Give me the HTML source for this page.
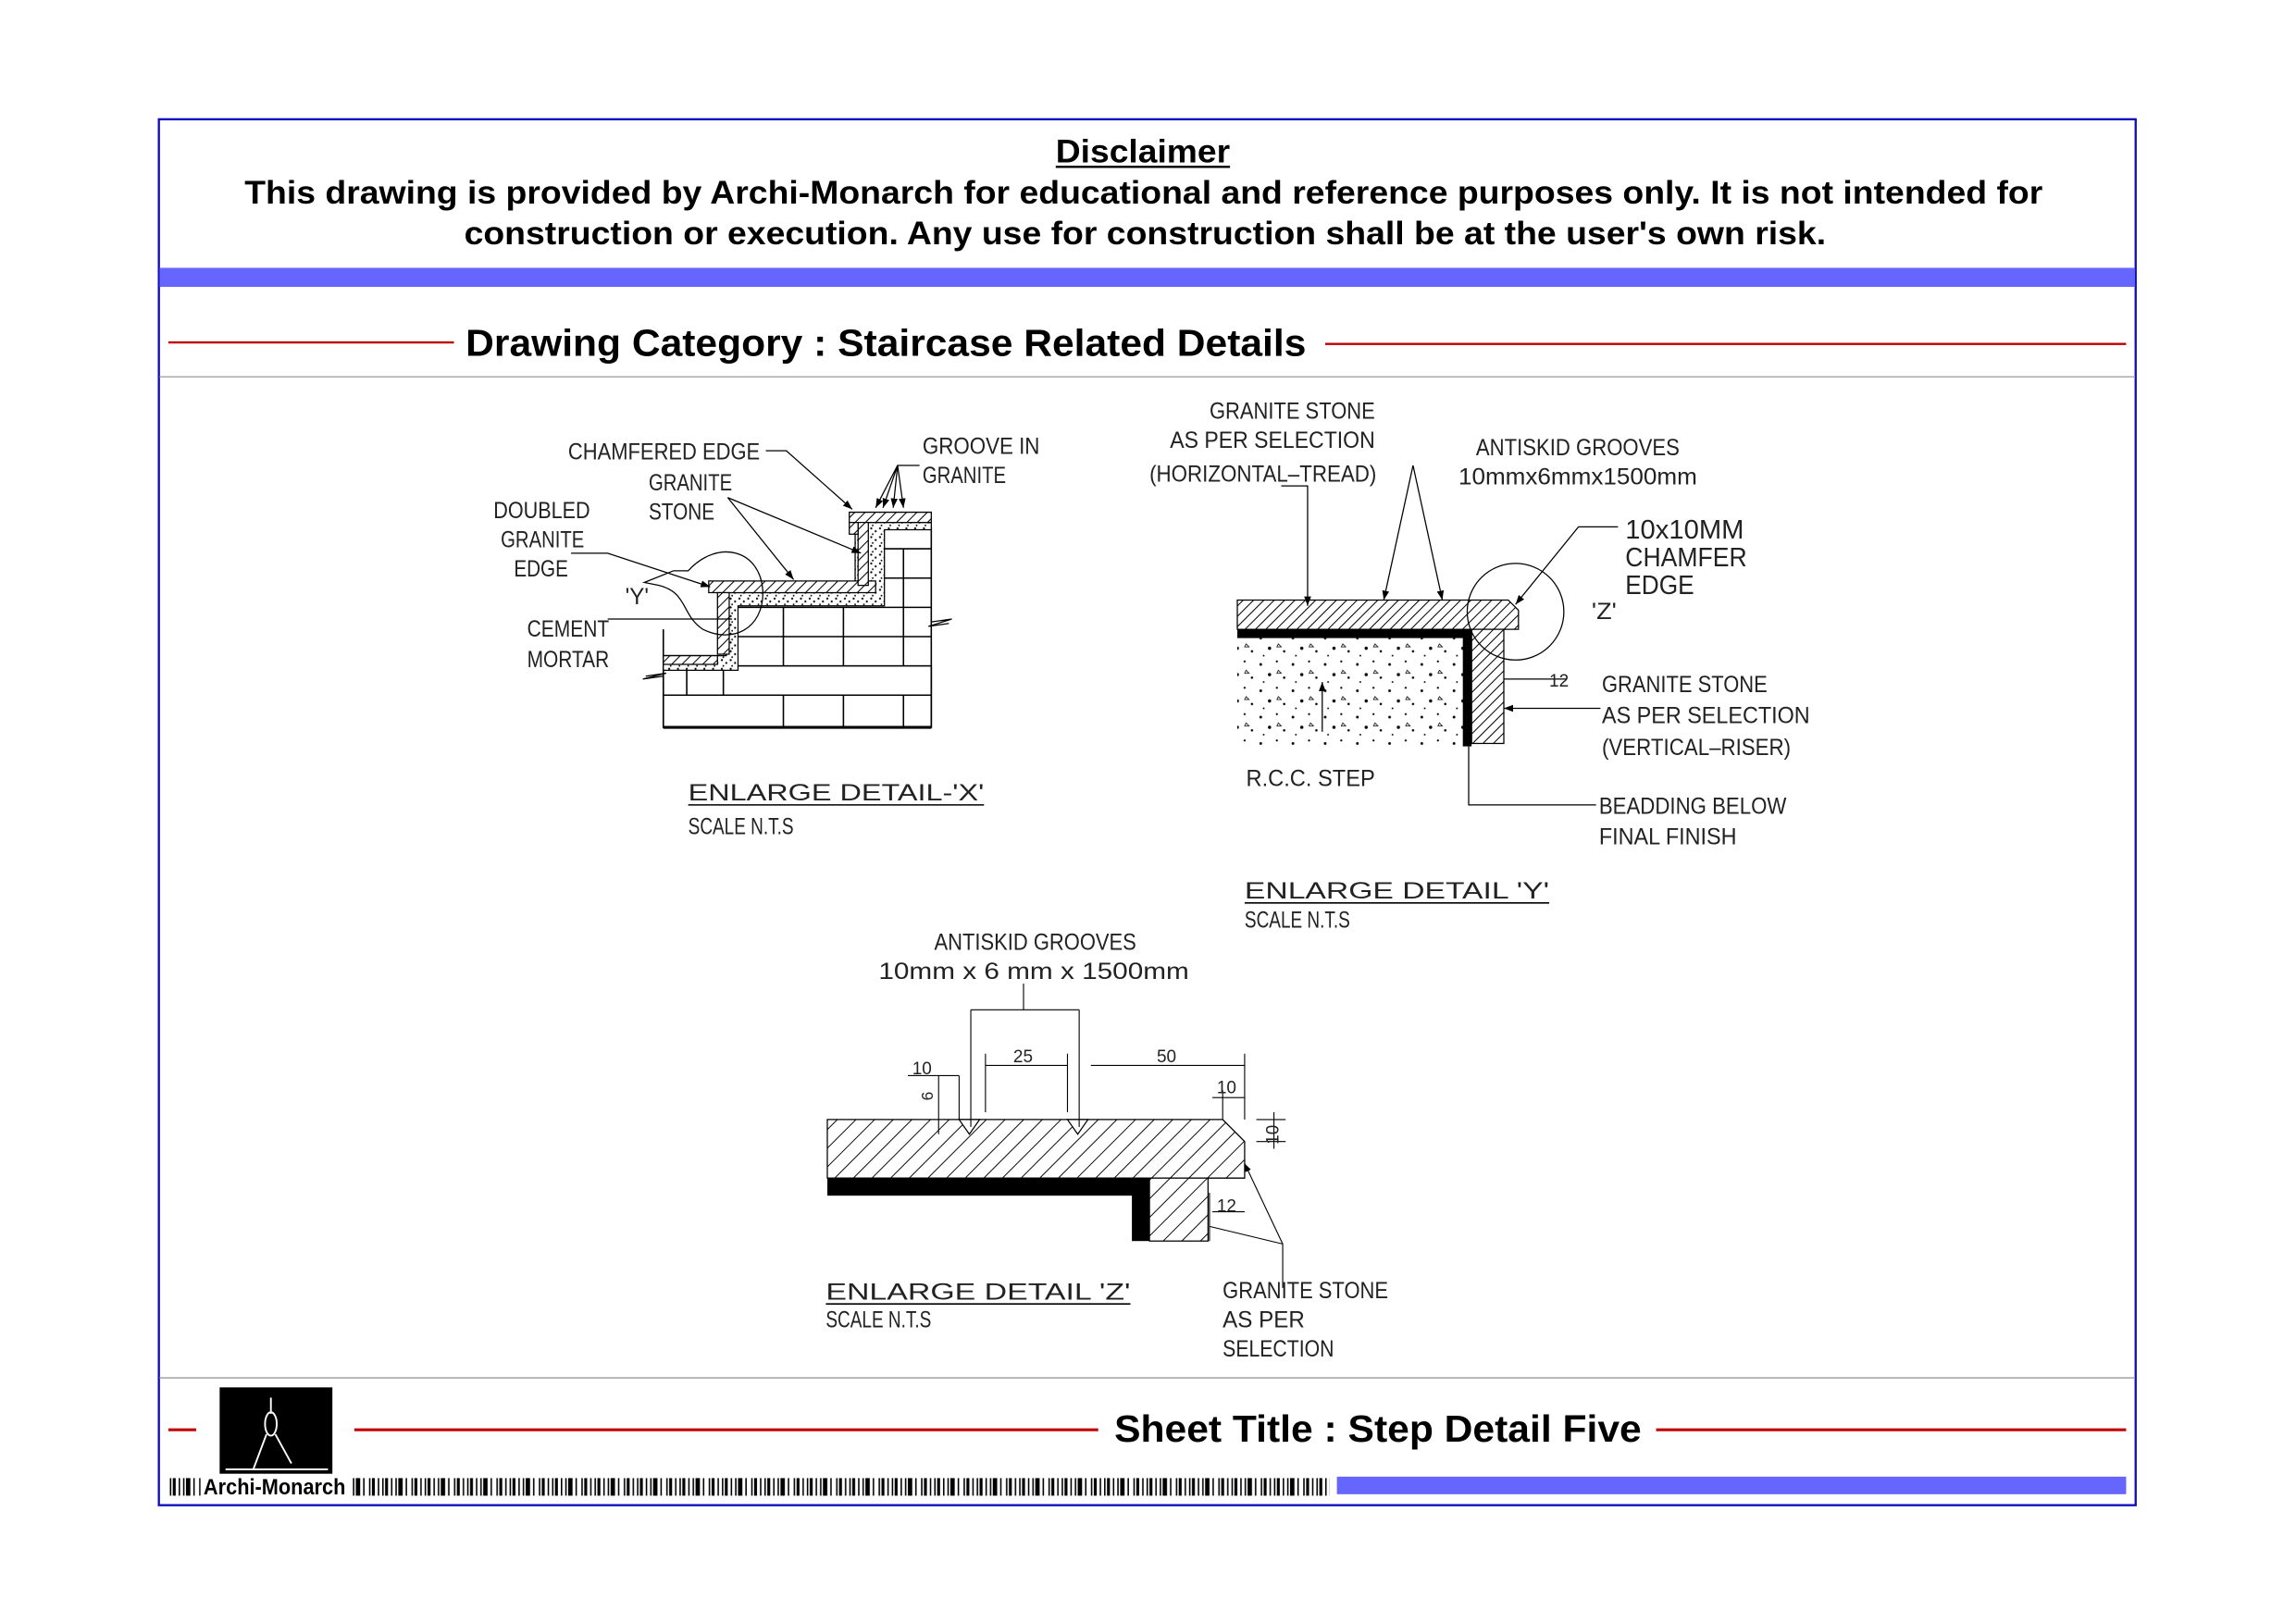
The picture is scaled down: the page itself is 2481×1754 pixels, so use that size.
<!DOCTYPE html>
<html><head><meta charset="utf-8"><style>
html,body{margin:0;padding:0;background:#fff;}
svg{display:block;}
.t{font-family:"Liberation Sans",sans-serif;font-weight:bold;fill:#000;}
.c{font-family:"Liberation Sans",sans-serif;fill:#222;font-size:16px;}
</style></head><body>
<svg width="2481" height="1754" viewBox="0 0 1568 1109" preserveAspectRatio="none" xmlns="http://www.w3.org/2000/svg">
<defs>
<pattern id="h" width="5" height="5" patternUnits="userSpaceOnUse" patternTransform="rotate(45)">
<rect width="5" height="5" fill="#fff"/><line x1="0" y1="0" x2="0" y2="5" stroke="#000" stroke-width="1.3"/></pattern>
<pattern id="hz" width="9" height="9" patternUnits="userSpaceOnUse" patternTransform="rotate(45)">
<rect width="9" height="9" fill="#fff"/><line x1="0" y1="0" x2="0" y2="9" stroke="#000" stroke-width="1.2"/></pattern>
<pattern id="d" width="6" height="6" patternUnits="userSpaceOnUse">
<rect width="6" height="6" fill="#fff"/><circle cx="1" cy="1" r="0.7" fill="#000"/><circle cx="4" cy="3" r="0.7" fill="#000"/><circle cx="2" cy="5" r="0.6" fill="#000"/></pattern>
<pattern id="cc" width="22" height="18" patternUnits="userSpaceOnUse">
<rect width="22" height="18" fill="#fff"/><circle cx="3" cy="4" r="0.9" fill="#000"/><circle cx="14" cy="2" r="0.7" fill="#000"/><circle cx="9" cy="11" r="1.1" fill="#000"/><circle cx="19" cy="13" r="0.8" fill="#000"/><circle cx="5" cy="16" r="0.6" fill="#000"/><path d="M15 8 l2 2 l-3 0z" fill="none" stroke="#000" stroke-width="0.5"/></pattern>
<pattern id="bc" width="29" height="12" patternUnits="userSpaceOnUse"><rect width="29" height="12" fill="#fff"/><rect x="0" width="1" height="12" fill="#000"/><rect x="2" width="2" height="12" fill="#000"/><rect x="6" width="1" height="12" fill="#000"/><rect x="9" width="1" height="12" fill="#000"/><rect x="11" width="3" height="12" fill="#000"/><rect x="16" width="1" height="12" fill="#000"/><rect x="20" width="1" height="12" fill="#000"/><rect x="22" width="2" height="12" fill="#000"/><rect x="26" width="1" height="12" fill="#000"/></pattern>
<marker id="a" markerWidth="8" markerHeight="6" refX="8" refY="3" orient="auto"><path d="M0 0 L8 3 L0 6z" fill="#000"/></marker>
</defs>
<!-- frame -->
<rect x="108.5" y="81.5" width="1350" height="947" fill="none" stroke="#1010c0" stroke-width="1.5"/>
<text x="721" y="111" class="t" font-size="22" textLength="119" lengthAdjust="spacingAndGlyphs">Disclaimer</text>
<line x1="721" y1="114" x2="840" y2="114" stroke="#000" stroke-width="1.5"/>
<text x="167" y="139" class="t" font-size="22" textLength="1228" lengthAdjust="spacingAndGlyphs">This drawing is provided by Archi-Monarch for educational and reference purposes only. It is not intended for</text>
<text x="317" y="167" class="t" font-size="22" textLength="930" lengthAdjust="spacingAndGlyphs">construction or execution. Any use for construction shall be at the user's own risk.</text>
<rect x="109" y="183" width="1349" height="13" fill="#6666ff"/>
<line x1="115" y1="234" x2="310" y2="234" stroke="#c00000" stroke-width="1.5"/>
<line x1="905" y1="235" x2="1452" y2="235" stroke="#c00000" stroke-width="1.5"/>
<text x="318" y="243" class="t" font-size="26" textLength="574" lengthAdjust="spacingAndGlyphs">Drawing Category : Staircase Related Details</text>
<line x1="109" y1="257.5" x2="1458" y2="257.5" stroke="#aaa" stroke-width="1"/>
<line x1="109" y1="941.5" x2="1458" y2="941.5" stroke="#aaa" stroke-width="1"/>
<!-- bottom title -->
<line x1="115" y1="977" x2="134" y2="977" stroke="#c00000" stroke-width="2"/>
<line x1="242" y1="977" x2="750" y2="977" stroke="#c00000" stroke-width="2"/>
<line x1="1131" y1="977" x2="1452" y2="977" stroke="#c00000" stroke-width="2"/>
<text x="761" y="985" class="t" font-size="26" textLength="360" lengthAdjust="spacingAndGlyphs">Sheet Title : Step Detail Five</text>
<rect x="150" y="948" width="77" height="59" fill="#000"/>
<g stroke="#fff" stroke-width="1.2" fill="none"><line x1="185" y1="955" x2="185" y2="966"/><ellipse cx="185" cy="973" rx="4" ry="8"/><line x1="182" y1="980" x2="173" y2="1004"/><line x1="188" y1="980" x2="199" y2="1000"/><line x1="154" y1="1004" x2="224" y2="1004"/></g>
<rect x="913" y="1009" width="539" height="12" fill="#6666ff"/>
<rect x="115" y="1010" width="22" height="12" fill="url(#bc)"/>
<rect x="240" y="1010" width="668" height="12" fill="url(#bc)"/>
<text x="139" y="1021" class="t" font-size="15" textLength="97" lengthAdjust="spacingAndGlyphs">Archi-Monarch</text>

<!-- DETAIL X -->
<g stroke="#000" stroke-width="1" fill="none">
<rect x="453" y="455" width="183" height="42" fill="#fff"/>
<path d="M453 497 L636 497" stroke-width="2"/>
<line x1="453" y1="475" x2="636" y2="475"/><line x1="502" y1="435" x2="636" y2="435"/><line x1="502" y1="415" x2="636" y2="415"/><line x1="598" y1="395" x2="636" y2="395"/><line x1="598" y1="375" x2="636" y2="375"/>
<line x1="636" y1="360" x2="636" y2="497"/>
<line x1="494" y1="455" x2="494" y2="475"/><line x1="535" y1="475" x2="535" y2="497"/><line x1="576" y1="475" x2="576" y2="497"/><line x1="617" y1="475" x2="617" y2="497"/>
<line x1="535" y1="435" x2="535" y2="455"/><line x1="576" y1="435" x2="576" y2="455"/><line x1="617" y1="435" x2="617" y2="455"/>
<line x1="535" y1="415" x2="535" y2="435"/><line x1="576" y1="415" x2="576" y2="435"/><line x1="617" y1="415" x2="617" y2="435"/>
<line x1="617" y1="375" x2="617" y2="395"/><line x1="617" y1="395" x2="617" y2="415"/>
<line x1="469" y1="455" x2="469" y2="475"/><line x1="453" y1="430" x2="453" y2="497"/>
</g>
<g stroke="#000" stroke-width="0.8">
<path d="M453 448 L496 448 L496 405 L584 405 L584 357 L636 357 L636 362 L604 362 L604 414 L504 414 L504 458 L453 458z" fill="url(#d)"/>
<path d="M484 397 L598 397 L598 405 L484 405z" fill="url(#h)"/>
<path d="M490 405 L498 405 L498 447 L490 447z" fill="url(#h)"/>
<path d="M453 448 L490 448 L490 454 L453 454z" fill="url(#h)"/>
<path d="M580 350 L636 350 L636 357 L580 357z" fill="url(#h)"/>
<path d="M586 357 L593 357 L593 400 L586 400z" fill="url(#h)"/>
<rect x="580" y="357" width="6" height="8" fill="url(#h)"/>
</g>
<path d="M636 425 L650 423 L634 428 L648 426" fill="none" stroke="#000" stroke-width="0.8"/>
<path d="M441 462 L455 460 L439 464 L453 462" fill="none" stroke="#000" stroke-width="0.8"/>
<g stroke="#000" stroke-width="0.8" fill="none">
<path d="M470 390 C 490 368, 520 375, 521 405 C 521 430, 500 440, 480 430 C 465 420, 470 405, 450 400 L 440 398 L 460 390z"/>
<path d="M523 308 L537 308 L582 348" marker-end="url(#a)"/>
<path d="M497 340 L542 396" marker-end="url(#a)"/>
<path d="M497 340 L588 378" marker-end="url(#a)"/>
<path d="M390 378 L415 378 L485 401" marker-end="url(#a)"/>
<path d="M415 423 L500 423"/>
<path d="M628 318 L613 318 L603 347" marker-end="url(#a)"/><path d="M613 318 L610 347" marker-end="url(#a)"/><path d="M613 318 L617 347" marker-end="url(#a)"/><path d="M613 318 L598 347" marker-end="url(#a)"/>
</g>
<g class="c" style="" >
<text x="388" y="314" textLength="131" lengthAdjust="spacingAndGlyphs">CHAMFERED EDGE</text>
<text x="443" y="335" textLength="57" lengthAdjust="spacingAndGlyphs">GRANITE</text><text x="443" y="355" textLength="45" lengthAdjust="spacingAndGlyphs">STONE</text>
<text x="337" y="354" textLength="66" lengthAdjust="spacingAndGlyphs">DOUBLED</text><text x="342" y="374" textLength="57" lengthAdjust="spacingAndGlyphs">GRANITE</text><text x="351" y="394" textLength="37" lengthAdjust="spacingAndGlyphs">EDGE</text>
<text x="427" y="413" textLength="16" lengthAdjust="spacingAndGlyphs">'Y'</text>
<text x="360" y="435" textLength="56" lengthAdjust="spacingAndGlyphs">CEMENT</text><text x="360" y="456" textLength="56" lengthAdjust="spacingAndGlyphs">MORTAR</text>
<text x="630" y="310" textLength="80" lengthAdjust="spacingAndGlyphs">GROOVE IN</text><text x="630" y="330" textLength="57" lengthAdjust="spacingAndGlyphs">GRANITE</text>
</g>
<text x="470" y="547" class="c" font-size="22" textLength="202" lengthAdjust="spacingAndGlyphs">ENLARGE DETAIL-'X'</text>
<line x1="470" y1="550" x2="672" y2="550" stroke="#000"/>
<text x="470" y="570" class="c" font-size="13" textLength="72" lengthAdjust="spacingAndGlyphs">SCALE N.T.S</text>

<!-- DETAIL Y -->
<rect x="845" y="436" width="155" height="74" fill="url(#cc)"/>
<path d="M845 410 L1030 410 L1037 417 L1037 430 L845 430z" fill="url(#h)" stroke="#000" stroke-width="0.8"/>
<rect x="845" y="430" width="160" height="6" fill="#000"/>
<rect x="999" y="430" width="6" height="80" fill="#000"/>
<rect x="1005" y="430" width="22" height="78" fill="url(#h)" stroke="#000" stroke-width="0.8"/>
<g stroke="#000" stroke-width="0.8" fill="none">
<circle cx="1035" cy="418" r="33"/>
<path d="M875 332 L893 332 L893 414" marker-end="url(#a)"/>
<path d="M965 318 L945 410" marker-end="url(#a)"/><path d="M965 318 L985 410" marker-end="url(#a)"/>
<path d="M1105 360 L1078 360 L1035 413" marker-end="url(#a)"/>
<path d="M1027 464 L1070 464"/><path d="M1093 484 L1027 484" marker-end="url(#a)"/>
<path d="M903 500 L903 466" marker-end="url(#a)"/>
<path d="M1003 510 L1003 550 L1090 550"/>
</g>
<g class="c">
<text x="826" y="286" textLength="113" lengthAdjust="spacingAndGlyphs">GRANITE STONE</text><text x="799" y="306" textLength="140" lengthAdjust="spacingAndGlyphs">AS PER SELECTION</text><text x="785" y="329" textLength="155" lengthAdjust="spacingAndGlyphs">(HORIZONTAL–TREAD)</text>
<text x="1008" y="311" textLength="139" lengthAdjust="spacingAndGlyphs">ANTISKID GROOVES</text><text x="996" y="331" textLength="163" lengthAdjust="spacingAndGlyphs">10mmx6mmx1500mm</text>
<text x="1110" y="368" font-size="18" textLength="81" lengthAdjust="spacingAndGlyphs">10x10MM</text><text x="1110" y="387" font-size="18" textLength="83" lengthAdjust="spacingAndGlyphs">CHAMFER</text><text x="1110" y="406" font-size="18" textLength="47" lengthAdjust="spacingAndGlyphs">EDGE</text>
<text x="1087" y="423" textLength="17" lengthAdjust="spacingAndGlyphs">'Z'</text>
<text x="1058" y="469" font-size="12">12</text>
<text x="1094" y="473" textLength="113" lengthAdjust="spacingAndGlyphs">GRANITE STONE</text><text x="1094" y="494" textLength="142" lengthAdjust="spacingAndGlyphs">AS PER SELECTION</text><text x="1094" y="516" textLength="129" lengthAdjust="spacingAndGlyphs">(VERTICAL–RISER)</text>
<text x="851" y="537" textLength="88" lengthAdjust="spacingAndGlyphs">R.C.C. STEP</text>
<text x="1092" y="556" textLength="128" lengthAdjust="spacingAndGlyphs">BEADDING BELOW</text><text x="1092" y="577" textLength="94" lengthAdjust="spacingAndGlyphs">FINAL FINISH</text>
</g>
<text x="850" y="614" class="c" font-size="22" textLength="208" lengthAdjust="spacingAndGlyphs">ENLARGE DETAIL 'Y'</text>
<line x1="850" y1="617" x2="1058" y2="617" stroke="#000"/>
<text x="850" y="634" class="c" font-size="13" textLength="72" lengthAdjust="spacingAndGlyphs">SCALE N.T.S</text>

<!-- DETAIL Z -->
<path d="M565 765 L835 765 L850 780 L850 805 L565 805z" fill="url(#hz)" stroke="#000" stroke-width="0.8"/>
<rect x="565" y="805" width="220" height="12" fill="#000"/>
<rect x="773" y="805" width="12" height="43" fill="#000"/>
<rect x="785" y="805" width="40" height="43" fill="url(#hz)" stroke="#000" stroke-width="0.8"/>
<g fill="#fff" stroke="#000" stroke-width="0.8"><path d="M655 765 L662 775 L669 765z"/><path d="M729 765 L736 775 L743 765z"/></g>
<g stroke="#000" stroke-width="0.7" fill="none">
<path d="M699 672 L699 690 M663 690 L737 690 M663 690 L663 770 M737 690 L737 770"/>
<path d="M641 735 L641 775 M655 735 L655 765 M620 735 L655 735"/>
<path d="M673 728 L729 728 M673 720 L673 760 M729 720 L729 760"/>
<path d="M745 728 L850 728 M850 720 L850 765"/>
<path d="M828 750 L850 750 M835 745 L835 765"/>
<path d="M858 765 L878 765 M858 780 L878 780 M870 760 L870 785"/>
<path d="M828 828 L850 828 M826 815 L826 848"/>
<path d="M876 850 L876 880 M876 850 L850 795" marker-end="url(#a)"/><path d="M876 850 L826 838"/>
</g>
<g class="c">
<text x="638" y="649" textLength="138" lengthAdjust="spacingAndGlyphs">ANTISKID GROOVES</text><text x="600" y="669" textLength="212" lengthAdjust="spacingAndGlyphs">10mm x 6 mm x 1500mm</text>
<text x="623" y="734" font-size="12">10</text><text x="692" y="726" font-size="12">25</text><text x="790" y="726" font-size="12">50</text>
<text x="831" y="747" font-size="12">10</text><text x="831" y="828" font-size="12">12</text>
<text transform="translate(637,752) rotate(-90)" font-size="11">6</text>
<text transform="translate(873,782) rotate(-90)" font-size="12">10</text>
<text x="835" y="887" textLength="113" lengthAdjust="spacingAndGlyphs">GRANITE STONE</text><text x="835" y="907" textLength="56" lengthAdjust="spacingAndGlyphs">AS PER</text><text x="835" y="927" textLength="76" lengthAdjust="spacingAndGlyphs">SELECTION</text>
</g>
<text x="564" y="888" class="c" font-size="22" textLength="208" lengthAdjust="spacingAndGlyphs">ENLARGE DETAIL 'Z'</text>
<line x1="564" y1="891" x2="772" y2="891" stroke="#000"/>
<text x="564" y="907" class="c" font-size="13" textLength="72" lengthAdjust="spacingAndGlyphs">SCALE N.T.S</text>
</svg>
</body></html>
